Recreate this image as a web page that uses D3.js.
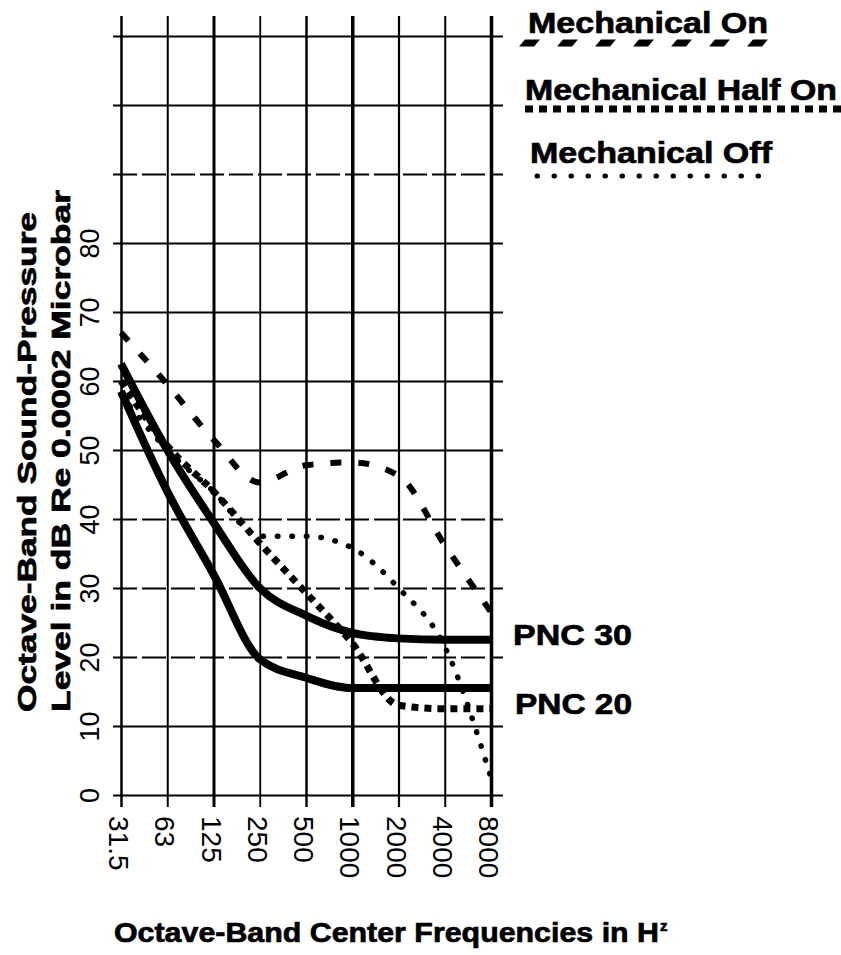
<!DOCTYPE html>
<html>
<head>
<meta charset="utf-8">
<script src="https://cdn.jsdelivr.net/npm/d3@7"></script>
<style>
  html, body { margin: 0; padding: 0; background: #fff; }
  svg { display: block; }
  .tick text { font-family: "Liberation Sans", Arial, sans-serif; fill: #000; }
  .heavy { font-family: "Liberation Sans", Arial, sans-serif; font-weight: bold; fill: #000; stroke: #000; stroke-width: 0.7; }
</style>
</head>
<body>
<div class="chart"></div>
<script>
'use strict';
(function() {
  // Data (dB at each octave band)
  var freqLabels = ['31.5', '63', '125', '250', '500', '1000', '2000', '4000', '8000'];
  var pnc30 = [62.5, 50, 39.5, 30, 26, 23.5, 22.7, 22.5, 22.5];
  var pnc20 = [58.5, 44, 32, 19.7, 17, 15.5, 15.5, 15.5, 15.5];
  var mechOn = [67, 59.5, 51.5, 45.3, 47.8, 48.2, 46.3, 36.2, 26.5];
  var mechHalfOn = [60, 50.6, 44, 36.5, 29.3, 22, 13, 12.5, 12.5];
  var mechOff = [58, 50, 44, 37.5, 37.5, 35.8, 30, 21.5, 2.5];
  var yTicks = [0, 10, 20, 30, 40, 50, 60, 70, 80, 90, 100, 110];
  var yLabelMax = 80;
  var brokenGrid = [20, 30, 40, 90];   // grid rows printed as broken lines

  var w = 841;
  var h = 955;
  var left = 121, right = 491;
  var bottom = 795, top = 36;
  var gridLeft = 113, gridRight = 503;
  var vTop = 16, vBottom = 807;

  var svg = d3.select('.chart')
    .append('svg')
    .attr('width', w)
    .attr('height', h);

  svg.append('rect').attr('width', w).attr('height', h).attr('fill', '#fff');

  var x = d3.scalePoint()
    .domain(freqLabels)
    .range([left, right]);

  var y = d3.scaleLinear()
    .domain([0, 110])
    .range([bottom, top]);

  // vertical grid + frequency labels
  var vWidths = [2.5, 2, 3, 1.8, 2.5, 3.5, 2.2, 2, 3.5];
  var xAxis = d3.axisBottom(x)
    .tickSizeInner(-(vBottom - vTop))
    .tickSizeOuter(0)
    .tickPadding(0);

  var gx = svg.append('g')
    .attr('transform', 'translate(0,' + vBottom + ')')
    .call(xAxis);
  gx.select('.domain').remove();
  gx.selectAll('.tick line')
    .attr('stroke', '#000')
    .attr('stroke-width', function(d, i) { return vWidths[i]; });
  gx.selectAll('.tick text')
    .attr('x', 0)
    .attr('y', 0)
    .attr('dy', null)
    .attr('text-anchor', 'start')
    .attr('dominant-baseline', 'central')
    .attr('font-size', 28)
    .attr('transform', 'translate(-3,9) rotate(90)');

  // horizontal grid + level labels
  var yAxis = d3.axisRight(y)
    .tickValues(yTicks)
    .tickFormat(function(d) { return d <= yLabelMax ? d : ''; })
    .tickSizeInner(gridRight - gridLeft)
    .tickSizeOuter(0);

  var gy = svg.append('g')
    .attr('transform', 'translate(' + gridLeft + ',0)')
    .call(yAxis);
  gy.select('.domain').remove();
  gy.selectAll('.tick line')
    .attr('stroke', '#000')
    .attr('stroke-width', 2)
    .attr('stroke-dasharray', function(d) { return brokenGrid.indexOf(d) >= 0 ? '24,5' : null; });
  gy.selectAll('.tick text')
    .attr('x', 0)
    .attr('y', 0)
    .attr('dy', null)
    .attr('text-anchor', 'middle')
    .attr('dominant-baseline', 'central')
    .attr('font-size', 27)
    .attr('transform', 'translate(-23,0) rotate(-90)');

  // curves
  var line = d3.line()
    .x(function(d, i) { return x(freqLabels[i]); })
    .y(function(d) { return y(d); })
    .curve(d3.curveMonotoneX);

  var curves = svg.append('g').attr('class', 'data').attr('fill', 'none').attr('stroke', '#000');

  curves.append('path').attr('d', line(mechOff))
    .attr('stroke-width', 5.5).attr('stroke-linecap', 'round').attr('stroke-dasharray', '0.5,14');
  curves.append('path').attr('d', line(mechHalfOn))
    .attr('stroke-width', 7).attr('stroke-dasharray', '7,6');
  curves.append('path').attr('d', line(mechOn))
    .attr('stroke-width', 6).attr('stroke-dasharray', '11,17');
  curves.append('path').attr('d', line(pnc30))
    .attr('stroke-width', 8);
  curves.append('path').attr('d', line(pnc20))
    .attr('stroke-width', 8);

  // curve labels
  svg.append('text').attr('class', 'heavy')
    .attr('x', 513).attr('y', 645).attr('font-size', 30)
    .attr('textLength', 119).attr('lengthAdjust', 'spacingAndGlyphs')
    .text('PNC 30');
  svg.append('text').attr('class', 'heavy')
    .attr('x', 515).attr('y', 714).attr('font-size', 30)
    .attr('textLength', 117).attr('lengthAdjust', 'spacingAndGlyphs')
    .text('PNC 20');

  // legend
  var legend = svg.append('g').attr('class', 'legend');
  legend.append('text').attr('class', 'heavy')
    .attr('x', 528).attr('y', 33).attr('font-size', 29)
    .attr('textLength', 240).attr('lengthAdjust', 'spacingAndGlyphs')
    .text('Mechanical On');
  legend.append('g')
    .attr('transform', 'translate(0,43) skewX(-40)')
    .append('line')
    .attr('x1', 522).attr('x2', 767).attr('y1', 0).attr('y2', 0)
    .attr('stroke', '#000').attr('stroke-width', 7).attr('stroke-dasharray', '15,23');

  legend.append('text').attr('class', 'heavy')
    .attr('x', 525).attr('y', 100).attr('font-size', 29)
    .attr('textLength', 312).attr('lengthAdjust', 'spacingAndGlyphs')
    .text('Mechanical Half On');
  legend.append('line')
    .attr('x1', 525).attr('x2', 841).attr('y1', 109).attr('y2', 109)
    .attr('stroke', '#000').attr('stroke-width', 7).attr('stroke-dasharray', '8,6');

  legend.append('text').attr('class', 'heavy')
    .attr('x', 530).attr('y', 163).attr('font-size', 29)
    .attr('textLength', 242).attr('lengthAdjust', 'spacingAndGlyphs')
    .text('Mechanical Off');
  legend.append('line')
    .attr('x1', 537).attr('x2', 768).attr('y1', 176).attr('y2', 176)
    .attr('stroke', '#000').attr('stroke-width', 5).attr('stroke-linecap', 'round')
    .attr('stroke-dasharray', '0.5,16.5');

  // axis titles
  svg.append('text').attr('class', 'heavy')
    .attr('transform', 'translate(36,712) rotate(-90)')
    .attr('font-size', 26)
    .attr('textLength', 500).attr('lengthAdjust', 'spacingAndGlyphs')
    .text('Octave-Band Sound-Pressure');
  svg.append('text').attr('class', 'heavy')
    .attr('transform', 'translate(70,712) rotate(-90)')
    .attr('font-size', 26)
    .attr('textLength', 522).attr('lengthAdjust', 'spacingAndGlyphs')
    .text('Level in dB Re 0.0002 Microbar');

  svg.append('text').attr('class', 'heavy')
    .attr('x', 114).attr('y', 942).attr('font-size', 28)
    .attr('textLength', 545).attr('lengthAdjust', 'spacingAndGlyphs')
    .text('Octave-Band Center Frequencies in H');
  svg.append('text').attr('class', 'heavy')
    .attr('x', 660).attr('y', 931).attr('font-size', 15)
    .text('z');
})();
</script>
</body>
</html>
